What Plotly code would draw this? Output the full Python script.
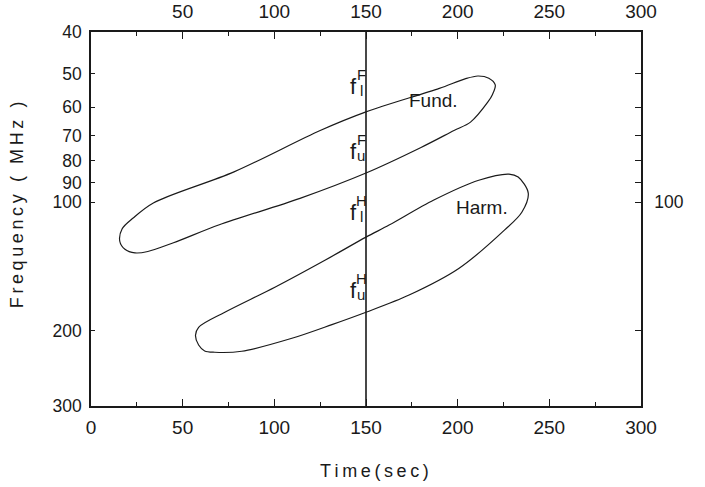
import numpy as np
import plotly.graph_objects as go

# ---- data ----
# Fundamental band outline (time in s, frequency in MHz), traced around the loop
fund_t = [23, 34, 78, 125, 150, 190, 204, 211, 217, 220.5, 219, 216.5, 207, 198, 180, 150, 114, 70, 45, 31, 24, 18.5, 15.7, 17, 23]
fund_f = [109, 100.5, 85, 68, 61.5, 54.2, 51.5, 50.7, 51.3, 53.2, 56, 58.3, 65, 68, 74.5, 85.5, 98, 113, 124.5, 130.5, 131.5, 129, 123.5, 115.5, 109]

# Harmonic band outline
harm_t = [57, 58.7, 73, 100.3, 127.6, 150, 162.6, 187, 211.5, 228, 233, 238.5, 235, 225.5, 200.8, 173.5, 150, 131.4, 109.6, 82.2, 67.5, 62, 58.7, 57]
harm_f = [205, 196.3, 181, 158.2, 136.8, 120.8, 113.2, 98.9, 88.9, 86, 87.4, 95.3, 105.6, 116.3, 142.8, 165, 181, 193.5, 208.3, 223.4, 224.6, 223, 216, 205]

cut_time = 150
cut_f = [40, 300]

x_ticks = [0, 50, 100, 150, 200, 250, 300]
x_minor = [25, 75, 125, 175, 225, 275]
top_ticks = [50, 100, 150, 200, 250, 300]
y_ticks = [40, 50, 60, 70, 80, 90, 100, 200, 300]
y_right_ticks = [50, 60, 70, 80, 90, 100, 200]
y_right_text = ["", "", "", "", "", "100", ""]

# f labels at the t=150 cut: (main letter, subscript, superscript, frequency)
cut_labels = [("f", "l", "F", 55.3), ("f", "u", "F", 78.5), ("f", "l", "H", 109), ("f", "u", "H", 166)]
band_labels = [("Fund.", 187, 57.8), ("Harm.", 213, 102.7)]

FONT = "Liberation Sans"
INK = "#1a1a1a"

fig = go.Figure()
fig.add_trace(go.Scatter(x=fund_t, y=fund_f, mode="lines",
                         line=dict(color=INK, width=1.2, shape="spline", smoothing=0.9),
                         hoverinfo="skip", showlegend=False))
fig.add_trace(go.Scatter(x=harm_t, y=harm_f, mode="lines",
                         line=dict(color=INK, width=1.2, shape="spline", smoothing=0.9),
                         hoverinfo="skip", showlegend=False))
fig.add_trace(go.Scatter(x=[cut_time, cut_time], y=cut_f, mode="lines",
                         line=dict(color=INK, width=1.6),
                         hoverinfo="skip", showlegend=False))
# invisible trace so the top/right axes are drawn
fig.add_trace(go.Scatter(x=[cut_time], y=[100], xaxis="x2", yaxis="y2", mode="markers",
                         marker=dict(opacity=0), hoverinfo="skip", showlegend=False))

for main, sub, sup, fval in cut_labels:
    ly = np.log10(fval)
    fig.add_annotation(x=cut_time, y=ly, text=main, showarrow=False, xanchor="center",
                       yanchor="middle", xshift=-13, yshift=6,
                       font=dict(family=FONT, size=22, color=INK))
    fig.add_annotation(x=cut_time, y=ly, text=sup, showarrow=False, xanchor="center",
                       yanchor="middle", xshift=-5, yshift=18,
                       font=dict(family=FONT, size=15, color=INK))
    fig.add_annotation(x=cut_time, y=ly, text=sub, showarrow=False, xanchor="center",
                       yanchor="middle", xshift=-5, yshift=2,
                       font=dict(family=FONT, size=15, color=INK))

for txt, t, fval in band_labels:
    fig.add_annotation(x=t, y=np.log10(fval), text=txt, showarrow=False,
                       xanchor="center", yanchor="middle",
                       font=dict(family=FONT, size=19, color=INK))

sp = "\u2009"
fig.add_annotation(xref="paper", yref="paper", x=0.515, y=-0.174,
                   xanchor="center", yanchor="middle",
                   text=sp.join("Time(sec)"), showarrow=False,
                   font=dict(family=FONT, size=18, color=INK))
fig.add_annotation(xref="paper", yref="paper", x=-0.1345, y=0.537,
                   xanchor="center", yanchor="middle",
                   text=sp.join("Frequency ( MHz )"), showarrow=False, textangle=-90,
                   font=dict(family=FONT, size=18, color=INK))

tickfont = dict(family=FONT, size=19, color=INK)
ytickfont = dict(family=FONT, size=17.5, color=INK)
fig.update_layout(
    width=705, height=487,
    margin=dict(l=91, r=64, t=32, b=81, autoexpand=False),
    paper_bgcolor="white", plot_bgcolor="white",
    xaxis=dict(range=[0, 300], tickvals=x_ticks, ticks="inside", ticklen=7, tickwidth=1.2,
               tickcolor=INK, showline=True, linecolor=INK, linewidth=1.6, automargin=False,
               showgrid=False, zeroline=False, tickfont=tickfont, ticklabelstandoff=3,
               minor=dict(tickvals=x_minor, ticks="inside", ticklen=4, tickcolor=INK, showgrid=False)),
    xaxis2=dict(range=[0, 300], overlaying="x", side="top", tickvals=top_ticks,
                ticks="inside", ticklen=7, tickwidth=1.2, tickcolor=INK, automargin=False,
                showline=True, linecolor=INK, linewidth=1.6, showgrid=False, zeroline=False,
                tickfont=tickfont, ticklabelstandoff=5,
                minor=dict(tickvals=x_minor, ticks="inside", ticklen=4, tickcolor=INK, showgrid=False)),
    yaxis=dict(type="log", range=[np.log10(300), np.log10(40)], tickvals=y_ticks,
               ticktext=[str(v) for v in y_ticks], ticks="inside", ticklen=4, tickwidth=1.2,
               tickcolor=INK, showline=True, linecolor=INK, linewidth=1.6, automargin=False,
               showgrid=False, zeroline=False, tickfont=ytickfont, ticklabelstandoff=4),
    yaxis2=dict(type="log", range=[np.log10(300), np.log10(40)], overlaying="y", side="right",
                tickvals=y_right_ticks, ticktext=y_right_text, ticks="inside", ticklen=6,
                tickwidth=1.2, tickcolor=INK, showline=True, linecolor=INK, linewidth=1.6,
                automargin=False,
                showgrid=False, zeroline=False, tickfont=ytickfont, ticklabelstandoff=8),
)

fig.write_html("out.html")
